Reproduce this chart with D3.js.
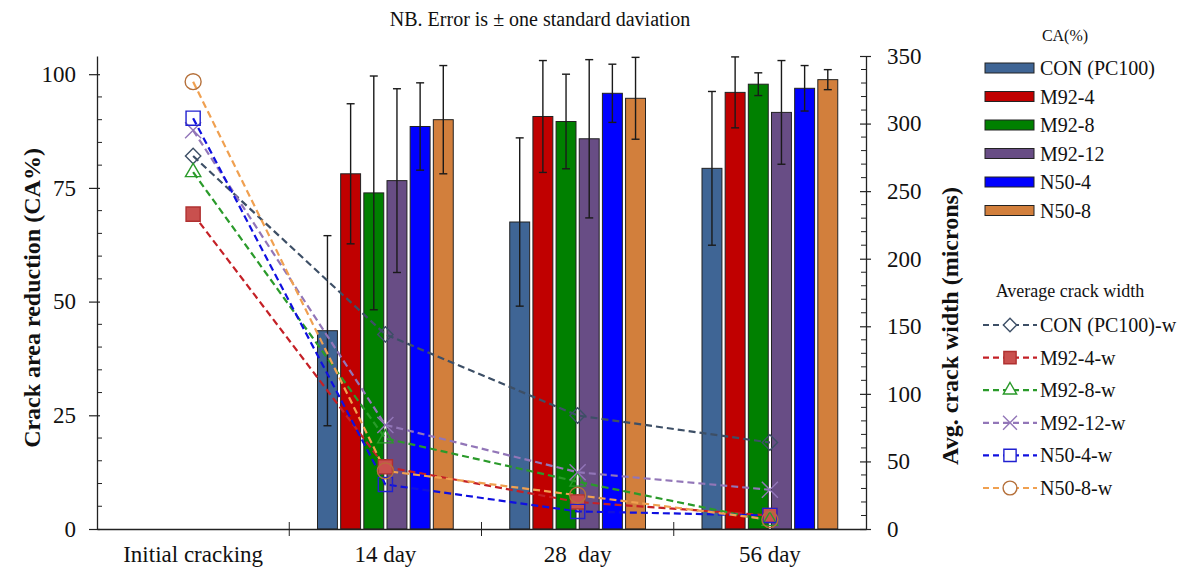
<!DOCTYPE html>
<html>
<head>
<meta charset="utf-8">
<script src="https://cdn.jsdelivr.net/npm/d3@7"></script>
<style>
  body { margin: 0; background: #fff; }
  #chart { width: 1180px; height: 570px; }
  text { font-family: "Liberation Serif", "Times New Roman", serif; fill: #111; }
</style>
</head>
<body>
<div id="chart"></div>
<script>

// categories on the x axis
var categories = ["Initial cracking", "14 day", "28  day", "56 day"];
var barDays = ["14 day", "28  day", "56 day"];

var seriesNames = ["CON (PC100)", "M92-4", "M92-8", "M92-12", "N50-4", "N50-8"];
var lineNames = ["CON (PC100)-w", "M92-4-w", "M92-8-w", "M92-12-w", "N50-4-w", "N50-8-w"];

// crack area reduction (%) per series, for 14 / 28 / 56 day
var caMeans = [
    [43.6, 67.5, 79.3],
    [78.1, 90.7, 96.0],
    [73.9, 89.6, 97.8],
    [76.6, 85.8, 91.6],
    [88.5, 95.8, 96.9],
    [90.0, 94.7, 98.8]
];
// one standard deviation
var caErrors = [
    [20.9, 18.5, 16.9],
    [15.4, 12.3, 7.8],
    [25.7, 10.4, 2.5],
    [20.2, 17.4, 11.4],
    [9.6, 6.4, 5.0],
    [11.9, 9.0, 2.2]
];

// average crack width (microns) per series, for all four categories
var widthValues = [
    [276, 144, 84, 64],
    [233, 46, 20, 10],
    [264, 67, 35, 6],
    [295, 77, 42, 29],
    [304, 33, 13, 10],
    [331, 43, 25, 7]
];

var barColors = ["#3f6595", "#c00000", "#008000", "#684d85", "#0000ff", "#d27f3c"];
var lineColors = ["#3d4f66", "#c42026", "#2a9a2a", "#9276b8", "#1010e0", "#f0a050"];
var markerStroke = ["#3d4f66", "#b03030", "#2a9a2a", "#9276b8", "#2020d0", "#b5703a"];
var markerFill = ["none", "#c9504e", "none", "none", "none", "none"];
var markerTypes = [d3.symbolDiamond2, d3.symbolSquare, d3.symbolTriangle2, d3.symbolX, d3.symbolSquare, d3.symbolCircle];
var markerSizes = [150, 200, 170, 170, 200, 200];

var width = 1180, height = 570;
var plotLeft = 97, plotRight = 866, plotBottom = 529, plotTop = 56;

var svg = d3.select("#chart")
    .append("svg")
    .attr("width", width)
    .attr("height", height);

var x = d3.scaleBand()
    .domain(categories)
    .range([plotLeft, plotRight]);

var x1 = d3.scaleBand()
    .domain(seriesNames)
    .range([0, 139])
    .paddingInner(0.14)
    .paddingOuter(0.07);

var yLeft = d3.scaleLinear().domain([0, 104]).range([plotBottom, plotTop]);
var yRight = d3.scaleLinear().domain([0, 350]).range([plotBottom, plotTop]);

// title note
svg.append("text")
    .attr("x", 540)
    .attr("y", 26)
    .attr("text-anchor", "middle")
    .style("font-size", "20px")
    .text("NB. Error is \u00b1 one standard daviation");

// bars
var barData = [];
seriesNames.forEach(function(s, i) {
    barDays.forEach(function(day, j) {
        barData.push({ series: s, i: i, day: day, v: caMeans[i][j], e: caErrors[i][j] });
    });
});

function barX(d) {
    return x(d.day) + x.bandwidth() / 2 - 69.5 + x1(d.series);
}

svg.selectAll("rect.bar")
    .data(barData)
    .enter()
    .append("rect")
        .attr("class", "bar")
        .attr("x", barX)
        .attr("y", function(d) { return yLeft(d.v); })
        .attr("width", x1.bandwidth())
        .attr("height", function(d) { return yLeft(0) - yLeft(d.v); })
        .attr("fill", function(d) { return barColors[d.i]; })
        .attr("stroke", "#222")
        .attr("stroke-width", 1);

// error bars
var err = svg.selectAll("g.err")
    .data(barData)
    .enter()
    .append("g")
    .attr("class", "err")
    .attr("stroke", "#1a1a1a")
    .attr("stroke-width", 1.4);

err.append("line")
    .attr("x1", function(d) { return barX(d) + x1.bandwidth() / 2; })
    .attr("x2", function(d) { return barX(d) + x1.bandwidth() / 2; })
    .attr("y1", function(d) { return yLeft(d.v - d.e); })
    .attr("y2", function(d) { return yLeft(d.v + d.e); });

[-1, 1].forEach(function(sign) {
    err.append("line")
        .attr("x1", function(d) { return barX(d) + x1.bandwidth() / 2 - 4; })
        .attr("x2", function(d) { return barX(d) + x1.bandwidth() / 2 + 4; })
        .attr("y1", function(d) { return yLeft(d.v + sign * d.e); })
        .attr("y2", function(d) { return yLeft(d.v + sign * d.e); });
});

// crack width lines
var line = d3.line()
    .x(function(d, k) { return x(categories[k]) + x.bandwidth() / 2; })
    .y(function(d) { return yRight(d); });

widthValues.forEach(function(vals, i) {
    svg.append("path")
        .datum(vals)
        .attr("d", line)
        .attr("fill", "none")
        .attr("stroke", lineColors[i])
        .attr("stroke-width", 2.2)
        .attr("stroke-dasharray", "7,4");
});

widthValues.forEach(function(vals, i) {
    svg.selectAll("path.m" + i)
        .data(vals)
        .enter()
        .append("path")
            .attr("class", "m" + i)
            .attr("transform", function(d, k) {
                return "translate(" + (x(categories[k]) + x.bandwidth() / 2) + "," + yRight(d) + ")";
            })
            .attr("d", d3.symbol().type(markerTypes[i]).size(markerSizes[i]))
            .attr("fill", markerFill[i])
            .attr("stroke", markerStroke[i])
            .attr("stroke-width", 1.4);
});

// axes
var leftAxis = svg.append("g")
    .attr("transform", "translate(" + plotLeft + ",0)");
leftAxis.call(d3.axisLeft(yLeft).tickValues([0, 25, 50, 75, 100]).tickSize(8).tickSizeOuter(0).tickPadding(13));
leftAxis.selectAll(".tick line").attr("x2", 3).attr("x1", -8);
leftAxis.append("g").selectAll("line")
    .data(d3.range(0, 101, 5).filter(function(v) { return v % 25 != 0; }))
    .enter().append("line")
        .attr("x1", 0).attr("x2", 5)
        .attr("y1", function(d) { return yLeft(d); })
        .attr("y2", function(d) { return yLeft(d); })
        .attr("stroke", "#222");

var rightAxis = svg.append("g")
    .attr("transform", "translate(" + plotRight + ",0)");
rightAxis.call(d3.axisRight(yRight).tickValues(d3.range(0, 351, 50)).tickSize(6).tickSizeOuter(0).tickPadding(15));
rightAxis.selectAll(".tick line").attr("x1", -6).attr("x2", 5);
rightAxis.append("g").selectAll("line")
    .data(d3.range(0, 351, 10).filter(function(v) { return v % 50 != 0; }))
    .enter().append("line")
        .attr("x1", -5).attr("x2", 0)
        .attr("y1", function(d) { return yRight(d); })
        .attr("y2", function(d) { return yRight(d); })
        .attr("stroke", "#222");

var bottomAxis = svg.append("g")
    .attr("transform", "translate(0," + plotBottom + ")");
bottomAxis.call(d3.axisBottom(x).tickSize(0).tickSizeOuter(0).tickPadding(17));
bottomAxis.selectAll(".tick text").style("white-space", "pre");
bottomAxis.append("g").selectAll("line")
    .data(categories.slice(1))
    .enter().append("line")
        .attr("x1", function(d) { return x(d); })
        .attr("x2", function(d) { return x(d); })
        .attr("y1", -7).attr("y2", 7)
        .attr("stroke", "#222");

svg.selectAll(".domain").attr("stroke", "#222").attr("stroke-width", 1.3);
svg.selectAll(".tick line").attr("stroke", "#222").attr("stroke-width", 1.2);
svg.selectAll(".tick text")
    .style("font-family", "'Liberation Serif', serif")
    .style("font-size", "23px")
    .attr("fill", "#111");

// axis titles
svg.append("text")
    .attr("transform", "translate(40,298) rotate(-90)")
    .attr("text-anchor", "middle")
    .style("font-size", "24px")
    .style("font-weight", "bold")
    .text("Crack area reduction (CA%)");

svg.append("text")
    .attr("transform", "translate(958,326) rotate(-90)")
    .attr("text-anchor", "middle")
    .style("font-size", "24px")
    .style("font-weight", "bold")
    .text("Avg. crack width (microns)");

// legend: bars
svg.append("text")
    .attr("x", 1065).attr("y", 41)
    .attr("text-anchor", "middle")
    .style("font-size", "16px")
    .text("CA(%)");

var barLegend = svg.selectAll("g.bl")
    .data(seriesNames)
    .enter()
    .append("g")
    .attr("class", "bl")
    .attr("transform", function(d, i) { return "translate(985," + (68 + i * 28.5) + ")"; });

barLegend.append("rect")
    .attr("x", 0).attr("y", -5)
    .attr("width", 49).attr("height", 10)
    .attr("fill", function(d, i) { return barColors[i]; })
    .attr("stroke", "#222");

barLegend.append("text")
    .attr("x", 55).attr("y", 7)
    .style("font-size", "20px")
    .text(function(d) { return d; });

// legend: lines
svg.append("text")
    .attr("x", 1070).attr("y", 297)
    .attr("text-anchor", "middle")
    .style("font-size", "18px")
    .text("Average crack width");

var lineLegend = svg.selectAll("g.ll")
    .data(lineNames)
    .enter()
    .append("g")
    .attr("class", "ll")
    .attr("transform", function(d, i) { return "translate(983," + (325 + i * 32.6) + ")"; });

lineLegend.append("line")
    .attr("x1", 0).attr("x2", 54)
    .attr("stroke", function(d, i) { return lineColors[i]; })
    .attr("stroke-width", 2.2)
    .attr("stroke-dasharray", "6,4");

lineLegend.append("path")
    .attr("transform", "translate(27,0)")
    .attr("d", function(d, i) { return d3.symbol().type(markerTypes[i]).size(markerSizes[i] * 0.75)(); })
    .attr("fill", function(d, i) { return markerFill[i] == "none" ? "#fff" : markerFill[i]; })
    .attr("stroke", function(d, i) { return markerStroke[i]; })
    .attr("stroke-width", 1.4);

lineLegend.append("text")
    .attr("x", 57).attr("y", 7)
    .style("font-size", "20px")
    .text(function(d) { return d; });

</script>
</body>
</html>
